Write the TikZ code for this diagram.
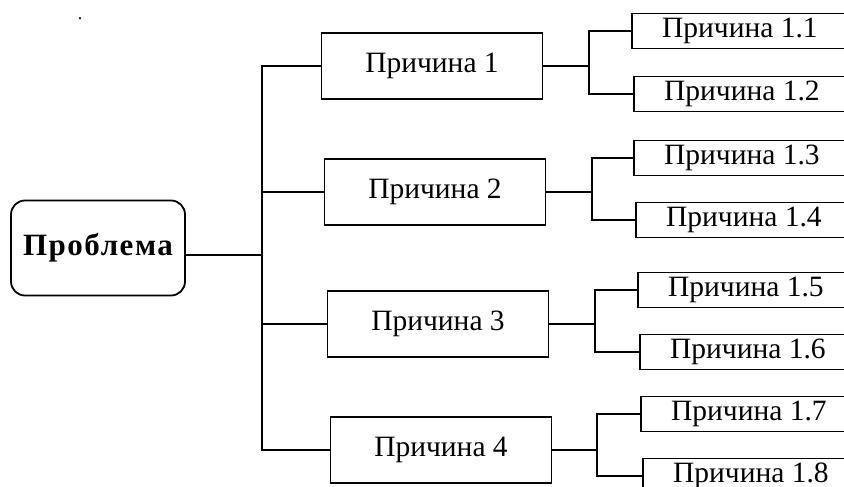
\documentclass[tikz,border=0pt]{standalone}
\usepackage{fontspec}
\setmainfont{Liberation Serif}
\newfontfamily\spacedfont[LetterSpace=5]{Liberation Serif}

\begin{document}
\begin{tikzpicture}[x=1pt, y=-1pt, line width=1.8pt,
  every node/.style={font=\fontsize{29.5}{32}\selectfont},
  problem/.style={draw, rounded corners=14pt, minimum width=174pt, minimum height=95pt, inner sep=0pt},
  cause/.style={draw, minimum width=221pt, minimum height=66pt},
  subcause/.style={draw, anchor=west, minimum width=216pt, minimum height=35pt, inner sep=0pt}]
\useasboundingbox (0,0) rectangle (844,487);
\clip (0,0) rectangle (844,487);

\node[anchor=base, inner sep=0pt, font=\fontsize{18}{20}\selectfont] (dot) at (80,20) {.};
\node[problem] (p) at (98,248) {\spacedfont\bfseries\fontsize{31}{33}\selectfont Проблема};

\node[cause] (c1) at (432,66) {Причина 1};
\node[cause] (c2) at (435,192) {Причина 2};
\node[cause] (c3) at (438,324) {Причина 3};
\node[cause] (c4) at (441,450) {Причина 4};

\node[subcause] (s11) at (631,31) {Причина 1.1};
\node[subcause] (s12) at (633,94) {Причина 1.2};
\node[subcause] (s13) at (633,158) {Причина 1.3};
\node[subcause] (s14) at (635,220) {Причина 1.4};
\node[subcause] (s15) at (637,290) {Причина 1.5};
\node[subcause] (s16) at (639,352) {Причина 1.6};
\node[subcause] (s17) at (640,414) {Причина 1.7};
\node[subcause] (s18) at (642,476) {Причина 1.8};

% trunk
\coordinate (t) at (262,255);
\draw (t -| p.east) -- (t);
\draw (t) |- (c1.west);
\draw (t) |- (c2.west);
\draw (t) |- (c3.west);
\draw (t) |- (c4.west);

% branches
\coordinate (b1) at (589,66);
\coordinate (b2) at (592,192);
\coordinate (b3) at (595,324);
\coordinate (b4) at (597,450);
\draw (c1) -- (b1);
\draw (c2) -- (b2);
\draw (c3) -- (b3);
\draw (c4) -- (b4);
\draw (b1) |- (s11.west);
\draw (b1) |- (s12.west);
\draw (b2) |- (s13.west);
\draw (b2) |- (s14.west);
\draw (b3) |- (s15.west);
\draw (b3) |- (s16.west);
\draw (b4) |- (s17.west);
\draw (b4) |- (s18.west);
\end{tikzpicture}
\end{document}
